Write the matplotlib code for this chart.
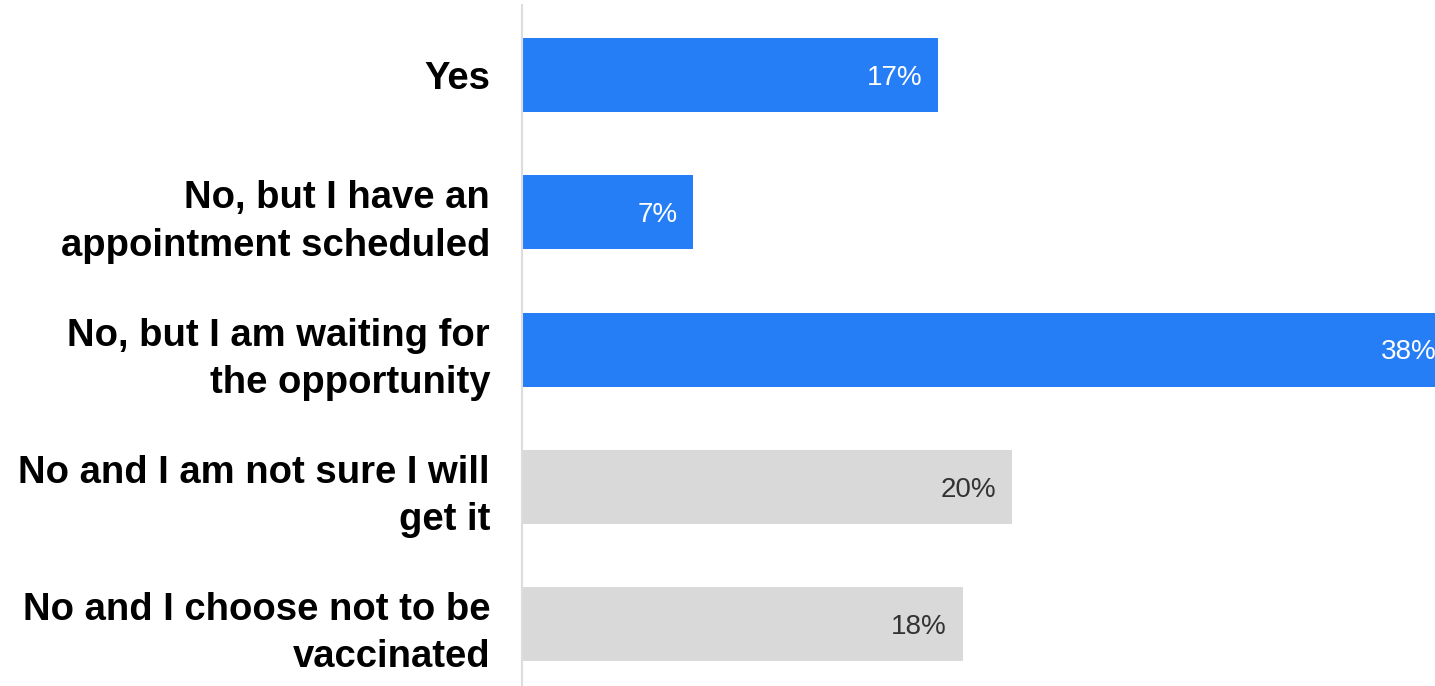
import matplotlib
matplotlib.use('Agg')
import matplotlib.pyplot as plt

answers = ['Yes',
           'No, but I have an\nappointment scheduled',
           'No, but I am waiting for\nthe opportunity',
           'No and I am not sure I will\nget it',
           'No and I choose not to be\nvaccinated']
shares = [17, 7, 38, 20, 18]
vaccinated_or_willing = [True, True, True, False, False]

BLUE = '#267ef6'
GREY = '#d9d9d9'

fig = plt.figure(figsize=(14.35, 6.86), dpi=100)
ax = fig.add_axes([522 / 1435, 0, 1 - 522 / 1435, 681 / 686])

colors = [BLUE if v else GREY for v in vaccinated_or_willing]
ypos = list(range(len(answers)))
ax.barh(ypos, shares, height=0.54, color=colors, zorder=2)

ax.set_xlim(0, 37.27)
ax.set_ylim(4.45, -0.51)

for y, val, blue in zip(ypos, shares, vaccinated_or_willing):
    ax.annotate(f'{val}%', xy=(val, y), xytext=(-11.5, -2), textcoords='offset points',
                ha='right', va='center', fontsize=20,
                family=['Liberation Sans', 'DejaVu Sans'],
                color='white' if blue else '#333333', annotation_clip=False)

ax.set_yticks(ypos)
ax.set_yticklabels(answers, fontsize=27.5, fontweight='bold',
                   family=['Liberation Sans', 'DejaVu Sans'],
                   linespacing=1.4, color='black')
ax.tick_params(axis='y', length=0, pad=23)
ax.set_xticks([])

for side in ['top', 'right', 'bottom']:
    ax.spines[side].set_visible(False)
ax.spines['left'].set_color('#dddddd')
ax.spines['left'].set_linewidth(1.5)

fig.savefig('out.png', dpi=100)
